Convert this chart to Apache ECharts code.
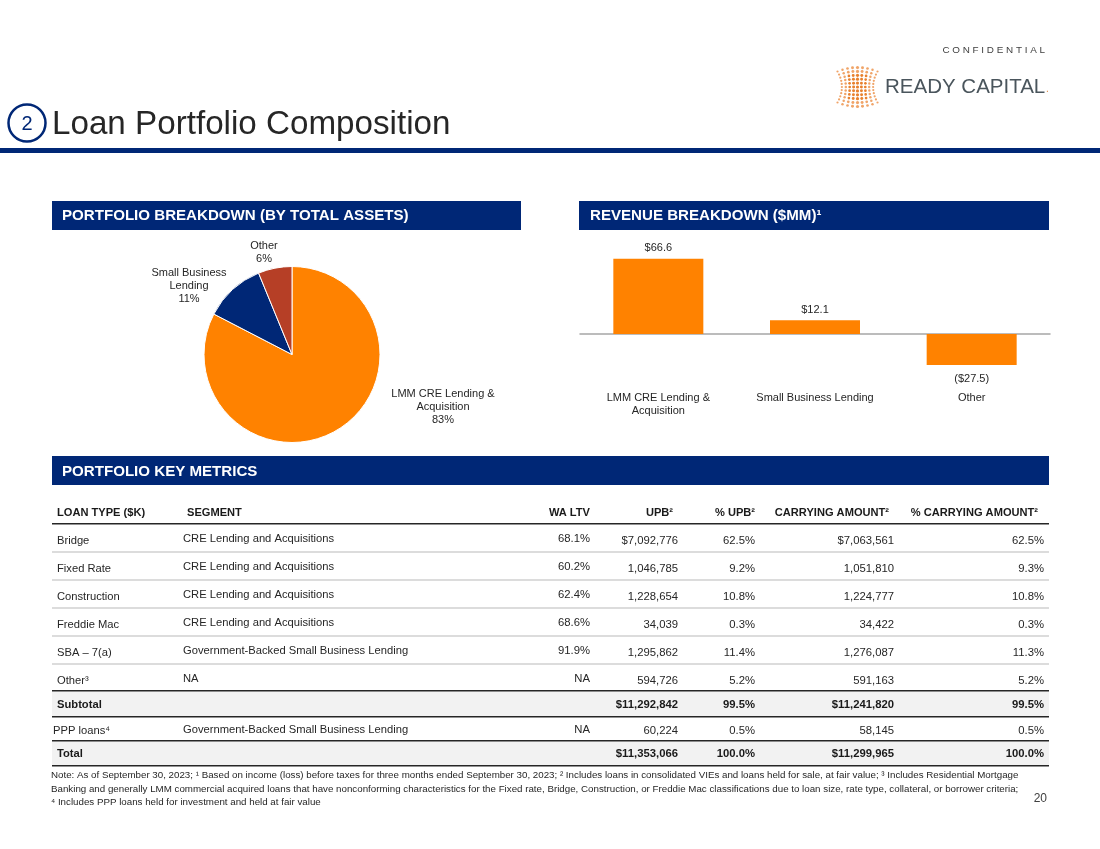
<!DOCTYPE html>
<html>
<head>
<meta charset="utf-8">
<title>Loan Portfolio Composition</title>
<script src="https://cdn.jsdelivr.net/npm/echarts@6/dist/echarts.min.js"></script>
<style>
  html, body { margin: 0; padding: 0; background: #fff; }
  #chart { width: 1100px; height: 849px; }
</style>
</head>
<body>
<div id="chart"></div>
<script>
const pieNames = ['LMM CRE Lending &\nAcquisition', 'Small Business\nLending', 'Other'];
const pieValues = [82.6, 11.2, 6.2];

const barCategories = ['LMM CRE Lending &\nAcquisition', 'Small Business Lending', 'Other'];
const barValues = [66.6, 12.1, -27.5];

const tableHeader = ['LOAN TYPE ($K)', 'SEGMENT', 'WA LTV', 'UPB²', '% UPB²', 'CARRYING AMOUNT²', '% CARRYING AMOUNT²'];
const loanTypes = ['Bridge', 'Fixed Rate', 'Construction', 'Freddie Mac', 'SBA – 7(a)', 'Other³', 'Subtotal', 'PPP loans⁴', 'Total'];
const segments = ['CRE Lending and Acquisitions', 'CRE Lending and Acquisitions', 'CRE Lending and Acquisitions', 'CRE Lending and Acquisitions', 'Government-Backed Small Business Lending', 'NA', '', 'Government-Backed Small Business Lending', ''];
const waLtv = ['68.1%', '60.2%', '62.4%', '68.6%', '91.9%', 'NA', '', 'NA', ''];
const upb = ['$7,092,776', '1,046,785', '1,228,654', '34,039', '1,295,862', '594,726', '$11,292,842', '60,224', '$11,353,066'];
const upbPct = ['62.5%', '9.2%', '10.8%', '0.3%', '11.4%', '5.2%', '99.5%', '0.5%', '100.0%'];
const carrying = ['$7,063,561', '1,051,810', '1,224,777', '34,422', '1,276,087', '591,163', '$11,241,820', '58,145', '$11,299,965'];
const carryingPct = ['62.5%', '9.3%', '10.8%', '0.3%', '11.3%', '5.2%', '99.5%', '0.5%', '100.0%'];

const noteLines = [
  'Note: As of September 30, 2023; ¹ Based on income (loss) before taxes for three months ended September 30, 2023; ² Includes loans in consolidated VIEs and loans held for sale, at fair value; ³ Includes Residential Mortgage',
  'Banking and generally LMM commercial acquired loans that have nonconforming characteristics for the Fixed rate, Bridge, Construction, or Freddie Mac classifications due to loan size, rate type, collateral, or borrower criteria;',
  '⁴ Includes PPP loans held for investment and held at fair value'
];

const NAVY = '#002776';
const ORANGE = '#ff8200';
const BRICK = '#b63f26';
const FONT = '"Liberation Sans", Arial, sans-serif';
const INK = '#262626';

function text(str, x, y, size, opts) {
  opts = opts || {};
  return {
    type: 'text',
    x: x,
    y: y,
    silent: true,
    style: {
      text: str,
      fontFamily: FONT,
      fontSize: size,
      fontWeight: opts.bold ? 'bold' : 'normal',
      fill: opts.color || INK,
      align: opts.align || 'left',
      verticalAlign: 'middle'
    }
  };
}

function rect(x, y, w, h, color) {
  return { type: 'rect', silent: true, shape: { x: x, y: y, width: w, height: h }, style: { fill: color } };
}

const graphics = [];

// page furniture
graphics.push(rect(0, 148, 1100, 5, NAVY));
graphics.push({ type: 'circle', silent: true, shape: { cx: 27, cy: 123, r: 18.5 }, style: { fill: '#fff', stroke: NAVY, lineWidth: 2.5 } });
graphics.push(text('2', 27, 124, 20, { align: 'center', color: NAVY }));
graphics.push(text('Loan Portfolio Composition', 52, 125, 33.2));
graphics.push(text('C O N F I D E N T I A L', 1045, 50, 9.9, { align: 'right', color: '#404040' }));
graphics.push(text('READY CAPITAL', 885, 87, 20.5, { color: '#4a555c' }));
graphics.push(text('.', 1046, 89, 10, { color: '#e08a45' }));

// logo dots, narrower at the waist
for (let r = -5; r <= 5; r++) {
  for (let c = -4; c <= 4; c++) {
    graphics.push({
      type: 'circle',
      silent: true,
      shape: {
        cx: 857.5 + c * (3.9 + 0.044 * r * r),
        cy: 87 + r * (3.9 - 0.05 * c * c),
        r: 1.6 - 0.12 * Math.abs(c)
      },
      style: { fill: Math.abs(c) > 2 || Math.abs(r) > 3 ? '#f0a468' : '#e8812e' }
    });
  }
}

// section bars
[
  ['PORTFOLIO BREAKDOWN (BY TOTAL ASSETS)', 52, 201, 469, 10, 15],
  ['REVENUE BREAKDOWN ($MM)¹', 579, 201, 470, 11, 15],
  ['PORTFOLIO KEY METRICS', 52, 456, 997, 10, 15.5]
].forEach(function (s) {
  graphics.push(rect(s[1], s[2], s[3], 29, NAVY));
  graphics.push(text(s[0], s[1] + s[4], s[2] + s[5], 15.1, { bold: true, color: '#fff' }));
});

// table
const rowTextY = [541, 569, 597, 625, 653, 681, 705, 731, 754];
const rowCellY = [539, 567, 595, 623, 651, 679, 705, 730, 754];
const boldRows = [6, 8];
graphics.push(rect(52, 691, 997, 25, '#f2f2f2'));
graphics.push(rect(52, 741, 997, 25, '#f2f2f2'));
[551, 579, 607, 635, 663].forEach(function (y) { graphics.push(rect(52, y, 997, 2, '#dcdcdc')); });
[523, 690, 716, 740, 765].forEach(function (y) { graphics.push(rect(52, y, 997, 1.6, '#262626')); });

const headerX = [57, 187, 590, 673, 755, 889, 1038];
tableHeader.forEach(function (h, i) {
  graphics.push(text(h, headerX[i], 512.5, 11.1, { bold: true, color: '#1a1a1a', align: i > 1 ? 'right' : 'left' }));
});

loanTypes.forEach(function (name, i) {
  const bold = boldRows.indexOf(i) >= 0;
  const o = { bold: bold, color: bold ? '#1a1a1a' : INK };
  const r = { bold: bold, color: o.color, align: 'right' };
  graphics.push(text(name, i === 7 ? 53 : 57, rowTextY[i], 11.2, o));
  graphics.push(text(segments[i], 183, rowCellY[i], 11.2, o));
  graphics.push(text(waLtv[i], 590, rowCellY[i], 11.3, r));
  graphics.push(text(upb[i], 678, rowTextY[i], 11.3, r));
  graphics.push(text(upbPct[i], 755, rowTextY[i], 11.3, r));
  graphics.push(text(carrying[i], 894, rowTextY[i], 11.3, r));
  graphics.push(text(carryingPct[i], 1044, rowTextY[i], 11.3, r));
});

noteLines.forEach(function (line, i) {
  graphics.push(text(line, 51, 775.5 + i * 13.5, 9.75));
});
graphics.push(text('20', 1047, 799, 12, { align: 'right', color: '#404040' }));

const pieLabelPos = [[443, 406.5], [189, 285.5], [264, 252]];

const option = {
  animation: false,
  backgroundColor: '#fff',
  grid: { left: 580, top: 243.6, width: 470, height: 135.6 },
  xAxis: {
    type: 'category',
    data: barCategories,
    axisTick: { show: false },
    axisLine: { onZero: true, lineStyle: { color: '#a6a6a6', width: 1.5 } },
    axisLabel: { margin: 12, interval: 0, color: INK, fontFamily: FONT, fontSize: 11, lineHeight: 13 }
  },
  yAxis: { type: 'value', min: -40, max: 80, show: false },
  series: [
    {
      type: 'bar',
      data: barValues.map(function (v) {
        return { value: v, label: { distance: v < 0 ? 8 : 5 } };
      }),
      barWidth: 90,
      itemStyle: { color: ORANGE },
      label: {
        show: true,
        position: 'outside',
        color: INK,
        fontFamily: FONT,
        fontSize: 11,
        formatter: function (p) {
          return p.value < 0 ? '($' + (-p.value).toFixed(1) + ')' : '$' + p.value.toFixed(1);
        }
      }
    },
    {
      type: 'pie',
      center: [292, 354.5],
      radius: [0, 88],
      startAngle: 90,
      clockwise: true,
      data: pieNames.map(function (n, i) {
        return { name: n, value: pieValues[i], itemStyle: { color: [ORANGE, NAVY, BRICK][i] } };
      }),
      itemStyle: { borderColor: '#fff', borderWidth: 1 },
      label: {
        show: true,
        position: 'outside',
        formatter: function (p) {
          return p.name + '\n' + Math.round(p.value) + '%';
        },
        color: INK,
        fontFamily: FONT,
        fontSize: 11,
        lineHeight: 13,
        align: 'center'
      },
      labelLine: { show: false },
      labelLayout: function (p) {
        return { x: pieLabelPos[p.dataIndex][0], y: pieLabelPos[p.dataIndex][1], align: 'center', verticalAlign: 'middle' };
      }
    }
  ],
  graphic: { elements: graphics }
};

const chart = echarts.init(document.getElementById('chart'));
chart.setOption(option);
</script>
</body>
</html>
